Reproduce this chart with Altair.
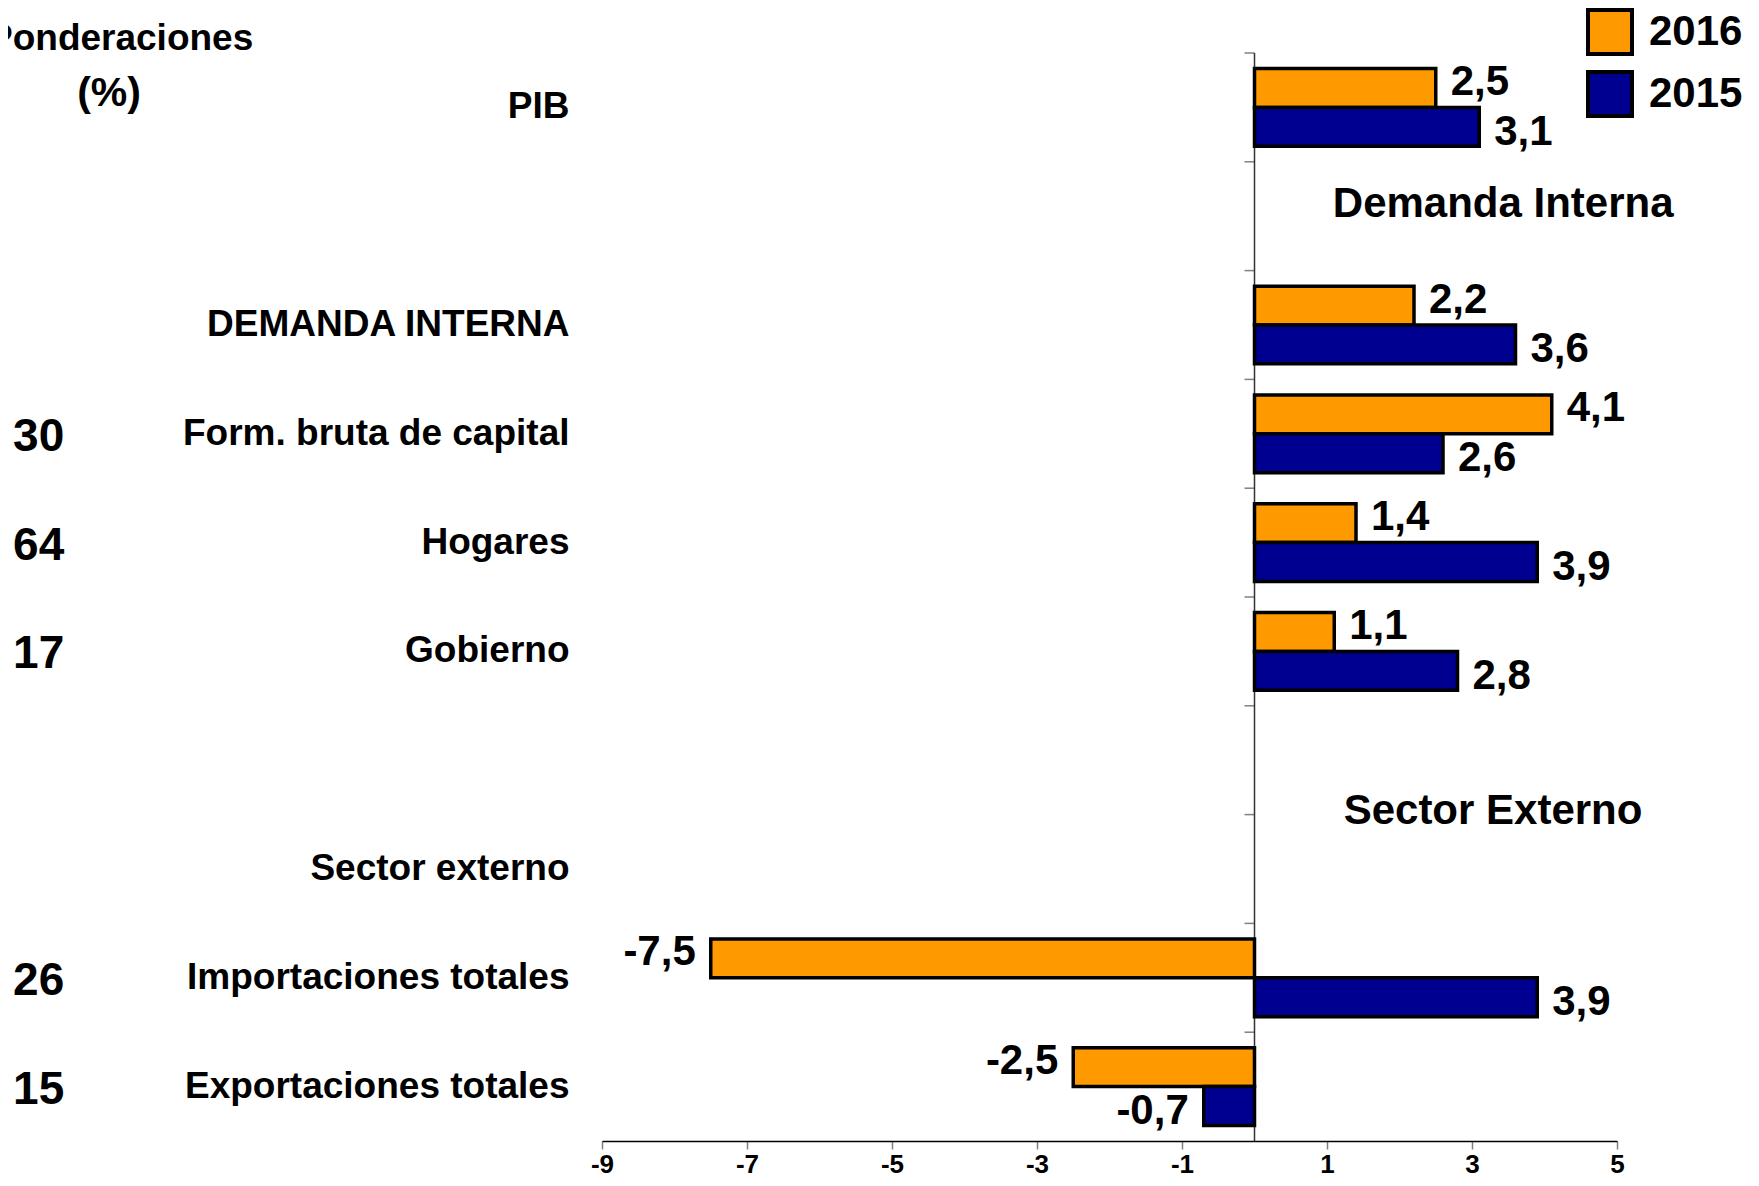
import altair as alt
import pandas as pd

# ---------------- data ----------------
rows = ["PIB", " ", "DEMANDA INTERNA", "Form. bruta de capital", "Hogares",
        "Gobierno", "  ", "Sector externo", "Importaciones totales",
        "Exportaciones totales"]
bar_cats = ["PIB", "DEMANDA INTERNA", "Form. bruta de capital", "Hogares",
            "Gobierno", "Importaciones totales", "Exportaciones totales"]
v2016 = [2.5, 2.2, 4.1, 1.4, 1.1, -7.5, -2.5]
v2015 = [3.1, 3.6, 2.6, 3.9, 2.8, 3.9, -0.7]
years = ["2016", "2015"]
colors = ["#FF9900", "#000090"]
weight_cats = ["Form. bruta de capital", "Hogares", "Gobierno",
               "Importaciones totales", "Exportaciones totales"]
weights = [30, 64, 17, 26, 15]
x_ticks = [-9, -7, -5, -3, -1, 1, 3, 5]
x_domain = [-9, 5]
header_lines = ["Ponderaciones", "(%)"]
annot_text = ["Demanda Interna", "Sector Externo"]
annot_x = [3.43, 3.29]
annot_row = [" ", "  "]

FONT = "Liberation Sans"

recs = []
for yr, vals in zip(years, [v2016, v2015]):
    for c, v in zip(bar_cats, vals):
        recs.append({"cat": c, "year": yr, "value": v,
                     "label": f"{v:.1f}".replace(".", ",")})
df = pd.DataFrame(recs)
df_rows = pd.DataFrame({"cat": rows})
df_w = pd.DataFrame({"cat": weight_cats, "w": [str(w) for w in weights]})
df_one = pd.DataFrame({"cat": ["PIB"]})

yscale = alt.Scale(domain=rows, paddingInner=0, paddingOuter=0)
xscale = alt.Scale(domain=x_domain, nice=False, zero=False)
yoff_scale = alt.Scale(domain=years, paddingInner=0, paddingOuter=0.4)


def Y(**kw):
    return alt.Y("cat:N", scale=yscale, title=None, sort=rows, **kw)


# band boundary ticks on zero line
ticks = alt.Chart(df_rows).mark_rule(color="#808080", strokeWidth=1.5, xOffset=-10).encode(
    y=Y(bandPosition=0),
    x=alt.datum(0, scale=xscale),
    x2=alt.datum(0),
)

zero = alt.Chart(df_one).mark_rule(color="#333333", strokeWidth=1.5).encode(
    x=alt.datum(0, scale=xscale),
)

bars = alt.Chart(df).mark_bar(stroke="black", strokeWidth=3.5, strokeJoin="miter").encode(
    x=alt.X("value:Q", scale=xscale, title=None,
            axis=alt.Axis(values=x_ticks, labelExpr="'' + datum.value",
                          labelFlush=False, labelOverlap=False)),
    y=Y(),
    yOffset=alt.YOffset("year:N", scale=yoff_scale, sort=years),
    color=alt.Color("year:N", sort=years,
                    scale=alt.Scale(domain=years, range=colors),
                    legend=alt.Legend(orient="none", legendX=984, legendY=-45,
                                      title=None, symbolType="square",
                                      symbolSize=1936, symbolStrokeColor="black",
                                      symbolStrokeWidth=4, symbolOpacity=1,
                                      labelFont=FONT, labelFontSize=42,
                                      labelFontWeight="bold", labelColor="black",
                                      labelOffset=15, rowPadding=2, padding=0)),
)

layers = [ticks, zero, bars]

for yr, dy in zip(years, [-6, 5]):
    for sign in ["pos", "neg"]:
        cond = f"datum.year == '{yr}' && datum.value " + (">= 0" if sign == "pos" else "< 0")
        layers.append(
            alt.Chart(df).transform_filter(cond).mark_text(
                font=FONT, fontSize=42, fontWeight="bold", color="black",
                align="left" if sign == "pos" else "right", baseline="middle",
                dx=15 if sign == "pos" else -15, dy=dy,
            ).encode(
                x=alt.X("value:Q", scale=xscale, title=None),
                y=Y(),
                yOffset=alt.YOffset("year:N", scale=yoff_scale, sort=years),
                text="label:N",
            )
        )

weights_layer = alt.Chart(df_w).mark_text(
    font=FONT, fontSize=46, fontWeight="bold", color="black",
    align="center", baseline="middle", dy=3,
).encode(
    x=alt.datum(-16.77, scale=xscale),
    y=Y(),
    text="w:N",
)
layers.append(weights_layer)

# header "Ponderaciones (%)" (first word clipped at the left edge as in the source)
for txt, hx, align, fs, dy in zip(header_lines, [-13.81, -15.8], ["right", "center"],
                                  [37, 41], [-27, 28]):
    layers.append(
        alt.Chart(pd.DataFrame({"cat": ["PIB"], "t": [txt]})).mark_text(
            font=FONT, fontSize=fs, fontWeight="bold", color="black",
            align=align, baseline="middle", dy=dy,
        ).encode(
            x=alt.datum(hx, scale=xscale),
            y=Y(bandPosition=0.12),
            text="t:N",
        )
    )

for txt, ax, ar, bp in zip(annot_text, annot_x, annot_row, [0.39, 0.97]):
    d = pd.DataFrame({"cat": [ar], "t": [txt]})
    layers.append(
        alt.Chart(d).mark_text(
            font=FONT, fontSize=42, fontWeight="bold", color="black",
            align="center", baseline="middle",
        ).encode(
            x=alt.datum(ax, scale=xscale),
            y=Y(bandPosition=bp),
            text="t:N",
        )
    )

chart = alt.layer(*layers).properties(
    width=1015, height=1088,
    padding={"left": 594, "top": 45, "right": 134, "bottom": 37},
    autosize=alt.AutoSizeParams(type="none"),
).configure_view(stroke=None).configure_axisX(
    labelFont=FONT, labelFontSize=26, labelFontWeight="bold", labelColor="black",
    tickColor="#808080", tickSize=8, tickWidth=1.5, domainColor="black",
    domainWidth=1.5, grid=False, labelPadding=2,
).configure_axisY(
    domain=False, ticks=False, labelFont=FONT, labelFontSize=37,
    labelFontWeight="bold", labelColor="black", labelPadding=33,
    labelLimit=0, grid=False,
)

chart.save("out.html", embed_options={"renderer": "svg", "actions": False})
